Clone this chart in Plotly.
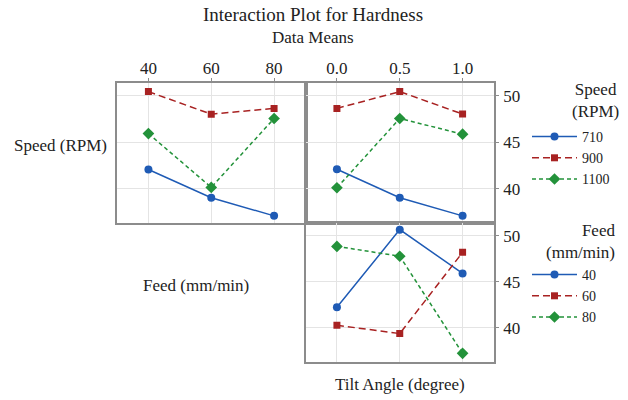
import plotly.graph_objects as go

# ---- data ----
feed_levels = ["40", "60", "80"]
tilt_levels = ["0.0", "0.5", "1.0"]
speed_names = ["710", "900", "1100"]
feed_names = ["40", "60", "80"]

# Speed x Feed (top-left): y per speed level across feed levels
speed_by_feed = {
    "710": [42.07, 39.02, 37.07],
    "900": [50.47, 48.04, 48.66],
    "1100": [45.94, 40.14, 47.57],
}
# Speed x Tilt (top-right)
speed_by_tilt = {
    "710": [42.10, 39.02, 37.07],
    "900": [48.66, 50.47, 48.05],
    "1100": [40.10, 47.57, 45.88],
}
# Feed x Tilt (bottom-right)
feed_by_tilt = {
    "40": [42.25, 50.68, 45.92],
    "60": [40.29, 39.39, 48.21],
    "80": [48.86, 47.79, 37.24],
}

FONT = "Liberation Serif"
styles = [
    dict(color="#1f5bb5", dash="solid", symbol="circle", size=8),
    dict(color="#a82222", dash="7px,4px", symbol="square", size=7),
    dict(color="#23923a", dash="4px,3px", symbol="diamond", size=9),
]

fig = go.Figure()

for i, name in enumerate(speed_names):
    s = styles[i]
    fig.add_trace(go.Scatter(
        x=feed_levels, y=speed_by_feed[name], xaxis="x", yaxis="y",
        mode="lines+markers", name=name, legend="legend", showlegend=True,
        line=dict(color=s["color"], dash=s["dash"], width=1.5),
        marker=dict(symbol=s["symbol"], size=s["size"], color=s["color"])))
    fig.add_trace(go.Scatter(
        x=tilt_levels, y=speed_by_tilt[name], xaxis="x2", yaxis="y2",
        mode="lines+markers", name=name, showlegend=False,
        line=dict(color=s["color"], dash=s["dash"], width=1.5),
        marker=dict(symbol=s["symbol"], size=s["size"], color=s["color"])))

for i, name in enumerate(feed_names):
    s = styles[i]
    fig.add_trace(go.Scatter(
        x=tilt_levels, y=feed_by_tilt[name], xaxis="x3", yaxis="y3",
        mode="lines+markers", name=name, legend="legend2", showlegend=True,
        line=dict(color=s["color"], dash=s["dash"], width=1.5),
        marker=dict(symbol=s["symbol"], size=s["size"], color=s["color"])))

W, H = 628, 400
def px_x(a, b):
    return [a / W, b / W]
def px_y(top, bot):
    return [1 - bot / H, 1 - top / H]

yr = [36.3, 51.4]
common = dict(showline=True, mirror=True, linecolor="#8c8c8c", linewidth=1.5,
              gridcolor="#e4e4e4", gridwidth=1, zeroline=False,
              tickfont=dict(family=FONT, size=17, color="#222"))
ticked = dict(ticks="outside", ticklen=3, tickcolor="#8c8c8c", tickwidth=1)
plain = dict(ticks="")

def ann(text, x, y, size=17, xanchor="center", align="center"):
    return dict(text=text, x=x / W, y=1 - y / H, xref="paper", yref="paper",
                xanchor=xanchor, yanchor="middle", align=align,
                showarrow=False, font=dict(family=FONT, size=size, color="#222"))

leg_font = dict(family=FONT, size=14, color="#222")

fig.update_layout(
    width=W, height=H, margin=dict(l=0, r=0, t=0, b=0),
    paper_bgcolor="white", plot_bgcolor="white",
    font=dict(family=FONT, size=17, color="#222"),
    xaxis=dict(domain=px_x(117, 305.5), anchor="y", side="top", type="category",
               range=[-0.5, 2.5], ticklabelstandoff=-3, **ticked, **common),
    yaxis=dict(domain=px_y(83, 223), anchor="x", range=yr, showticklabels=False,
               tickvals=[40, 45, 50], **plain, **common),
    xaxis2=dict(domain=px_x(305.5, 494), anchor="y2", side="top", type="category",
                range=[-0.5, 2.5], ticklabelstandoff=-3, **ticked, **common),
    yaxis2=dict(domain=px_y(83, 223), anchor="x2", side="right", range=yr,
                tickvals=[40, 45, 50], ticklabelstandoff=1, **ticked, **common),
    xaxis3=dict(domain=px_x(305.5, 494), anchor="y3", type="category",
                range=[-0.5, 2.5], showticklabels=False, **plain, **common),
    yaxis3=dict(domain=px_y(223, 362), anchor="x3", side="right", range=yr,
                tickvals=[40, 45, 50], ticklabelstandoff=1, **ticked, **common),
    legend=dict(x=527 / W, y=1 - 121 / H, xanchor="left", yanchor="top",
                font=leg_font, bgcolor="rgba(0,0,0,0)", itemwidth=45,
                tracegroupgap=0),
    legend2=dict(x=527 / W, y=1 - 259 / H, xanchor="left", yanchor="top",
                 font=leg_font, bgcolor="rgba(0,0,0,0)", itemwidth=45,
                 tracegroupgap=0),
    annotations=[
        ann("Interaction Plot for Hardness", 313, 15, size=19),
        ann("Data Means", 313, 37),
        ann("Speed (RPM)", 60, 145),
        ann("Feed (mm/min)", 196, 285),
        ann("Tilt Angle (degree)", 400, 384),
        ann("Speed<br>(RPM)", 595, 100),
        ann("Feed<br>(mm/min)", 617, 241, xanchor="right", align="right"),
    ],
)

fig.write_html("out.html")
